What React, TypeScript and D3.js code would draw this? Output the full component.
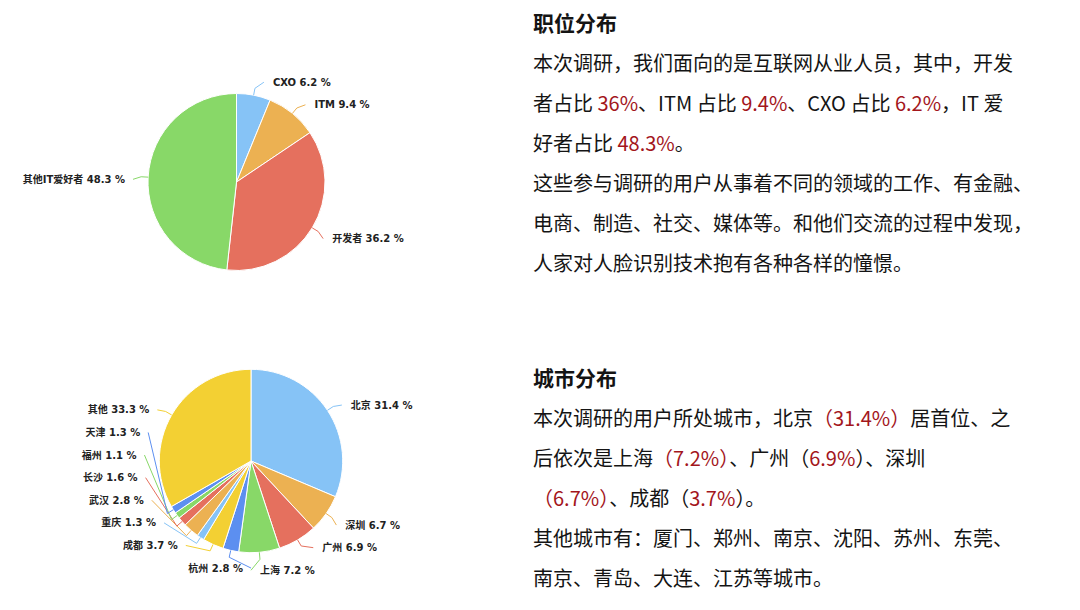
import React from 'react'
import { pie, arc, PieArcDatum } from 'd3'

// 职位分布
const jobLabels = ['CXO', 'ITM', '开发者', '其他IT爱好者']
const jobValues = [6.2, 9.4, 36.2, 48.3]

// 城市分布
const cityLabels = ['北京', '深圳', '广州', '上海', '杭州', '成都', '重庆', '武汉', '长沙', '福州', '天津', '其他']
const cityValues = [31.4, 6.7, 6.9, 7.2, 2.8, 3.7, 1.3, 2.8, 1.6, 1.1, 1.3, 33.3]

const palette = ['#86c3f6', '#ecb152', '#e5705e', '#88d868', '#5c8ff0', '#f3d033']

const RED = '#a3161c'
const INK = '#141414'

// text blocks: each line is a list of [text, highlighted]
const jobTitle = '职位分布'
const jobLines: [string, boolean][][] = [
    [['本次调研，我们面向的是互联网从业人员，其中，开发', false]],
    [['者占比 ', false], ['36%', true], ['、ITM 占比 ', false], ['9.4%', true], ['、CXO 占比 ', false], ['6.2%', true], ['，IT 爱', false]],
    [['好者占比 ', false], ['48.3%', true], ['。', false]],
    [['这些参与调研的用户从事着不同的领域的工作、有金融、', false]],
    [['电商、制造、社交、媒体等。和他们交流的过程中发现，', false]],
    [['人家对人脸识别技术抱有各种各样的憧憬。', false]],
]

const cityTitle = '城市分布'
const cityLines: [string, boolean][][] = [
    [['本次调研的用户所处城市，北京', false], ['（31.4%）', true], ['居首位、之', false]],
    [['后依次是上海', false], ['（7.2%）', true], ['、广州（', false], ['6.9%', true], ['）、深圳', false]],
    [['（6.7%）', true], ['、成都（', false], ['3.7%', true], ['）。', false]],
    [['其他城市有：厦门、郑州、南京、沈阳、苏州、东莞、', false]],
    [['南京、青岛、大连、江苏等城市。', false]],
]

type PieProps = { labels: string[], values: number[], cx: number, cy: number, r: number }

const PieChart = ({ labels, values, cx, cy, r }: PieProps) => {
    const arcs = pie<number>().sort(null).value(d => d)(values)
    const arcGen = arc<PieArcDatum<number>>().innerRadius(0).outerRadius(r)
    const R = r + 15
    const spacing = 22.6

    // label placement: ideal position on a ring, then de-overlap per side
    const items = arcs.map((a, i) => {
        const mid = (a.startAngle + a.endAngle) / 2
        return { i, mid, right: Math.sin(mid) >= 0, y: cy - R * Math.cos(mid) }
    })
    for (const side of [true, false]) {
        const group = items.filter(d => d.right === side).sort((a, b) => a.y - b.y)
        group.forEach(d => { d.y = Math.max(cy - R, Math.min(cy + R, d.y)) })
        for (let k = group.length - 2; k >= 0; k--) group[k].y = Math.min(group[k].y, group[k + 1].y - spacing)
        for (let k = 1; k < group.length; k++) group[k].y = Math.max(group[k].y, group[k - 1].y + spacing)
    }

    return (
        <g>
            {arcs.map((a, i) => (
                <path key={i} d={arcGen(a) || ''} transform={`translate(${cx},${cy})`}
                    fill={palette[i % palette.length]} stroke="#fff" strokeWidth={1} />
            ))}
            {items.map(d => {
                const color = palette[d.i % palette.length]
                const ly = d.y + 3
                const dy = ly - cy
                const dx = Math.sqrt(Math.max(0, R * R - dy * dy))
                const lx = d.right ? cx + dx : cx - dx
                const ex = cx + r * Math.sin(d.mid), ey = cy - r * Math.cos(d.mid)
                const ox = cx + (r + 7) * Math.sin(d.mid), oy = cy - (r + 7) * Math.cos(d.mid)
                return (
                    <g key={'l' + d.i}>
                        <path d={`M${ex},${ey}L${ox},${oy}L${lx},${ly}`} fill="none" stroke={color} strokeWidth={1} />
                        <text x={d.right ? lx + 9 : lx - 8} y={ly} dominantBaseline="central"
                            textAnchor={d.right ? 'start' : 'end'} fontSize={10} fontWeight="bold" fill="#222"
                            fontFamily="'DejaVu Sans', 'Noto Sans CJK SC', sans-serif">
                            {`${labels[d.i]} ${values[d.i]} %`}
                        </text>
                    </g>
                )
            })}
        </g>
    )
}

const Block = ({ title, lines, x, y }: { title: string, lines: [string, boolean][][], x: number, y: number }) => (
    <g fontFamily="'Noto Sans CJK SC', sans-serif">
        <text x={x} y={y} dominantBaseline="central" fontSize={21} fontWeight="bold" fill={INK}>{title}</text>
        {lines.map((line, i) => (
            <text key={i} x={x} y={y + 40 + i * 40} dominantBaseline="central" fontSize={20} fill={INK}>
                {line.map(([t, hl], j) => <tspan key={j} fill={hl ? RED : INK}>{t}</tspan>)}
            </text>
        ))}
    </g>
)

export default function App() {
    return (
        <div style={{ position: 'absolute', left: 0, top: 0 }}>
            <svg width={1080} height={610} style={{ display: 'block', background: '#fff' }}>
                <PieChart labels={jobLabels} values={jobValues} cx={236.5} cy={182} r={88.5} />
                <PieChart labels={cityLabels} values={cityValues} cx={251} cy={461} r={91.7} />
                <Block title={jobTitle} lines={jobLines} x={533} y={21.7} />
                <Block title={cityTitle} lines={cityLines} x={533} y={376.7} />
            </svg>
        </div>
    )
}
